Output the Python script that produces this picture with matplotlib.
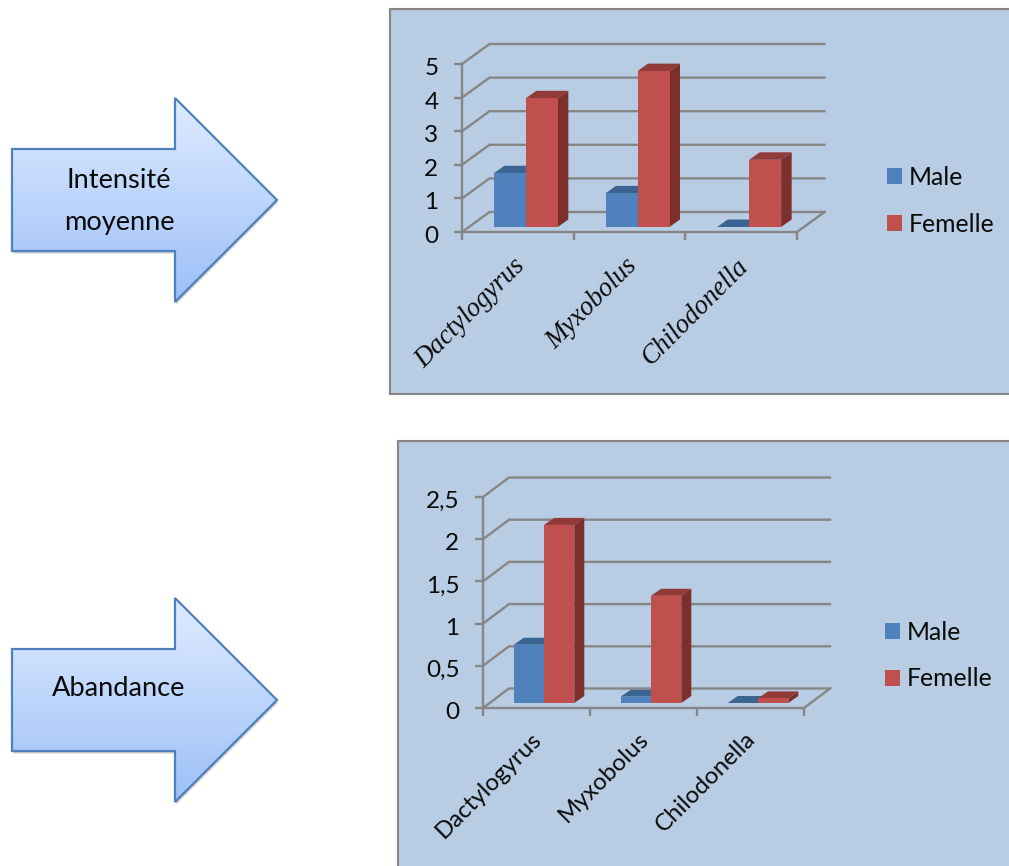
import numpy as np
import matplotlib
matplotlib.use("Agg")
import matplotlib.pyplot as plt
from matplotlib.patches import Polygon, Rectangle, Patch
from matplotlib.transforms import Affine2D

# ---- data ----
categories = ["Dactylogyrus", "Myxobolus", "Chilodonella"]
series_names = ["Male", "Femelle"]
intensite_male = [1.6, 1.0, 0.0]
intensite_femelle = [3.83, 4.64, 2.0]
abondance_male = [0.69, 0.075, 0.0]
abondance_femelle = [2.11, 1.27, 0.055]
intensite_ticks = [0, 1, 2, 3, 4, 5]
intensite_ticklabels = ["0", "1", "2", "3", "4", "5"]
abondance_ticks = [0, 0.5, 1, 1.5, 2, 2.5]
abondance_ticklabels = ["0", "0,5", "1", "1,5", "2", "2,5"]

W, H = 1009, 866
DPI = 100
FONT = "Lato"
PANEL = "#B8CCE4"
GRID = "#868686"
FRONT = ["#4F81BD", "#C0504D"]
TOP = ["#3C6490", "#913A38"]
SIDE = ["#375D8A", "#7C2F2D"]
LW = 1.7
INK = "#0A0A0A"

fig = plt.figure(figsize=(W / DPI, H / DPI), dpi=DPI, facecolor="white")
bg = fig.add_axes([0, 0, 1, 1])
bg.set_axis_off()


def arrow(cy, lines):
    x0, xn, xt = 12, 175, 277
    pts = [(x0, cy - 51), (xn, cy - 51), (xn, cy - 102), (xt, cy), (xn, cy + 102),
           (xn, cy + 51), (x0, cy + 51)]
    shadow = Polygon([(x + 1, y + 2.5) for x, y in pts], closed=True, fc="#555555", ec="none", alpha=0.3, zorder=1)
    bg.add_patch(shadow)
    grad = np.linspace(0, 1, 256)[:, None, None]
    c0, c1 = np.array([0.875, 0.925, 1.0]), np.array([0.61, 0.75, 0.97])
    img = c0[None, None, :] * (1 - grad) + c1[None, None, :] * grad
    im = bg.imshow(img, extent=(x0, xt, cy + 102, cy - 102), aspect="auto", zorder=2)
    poly = Polygon(pts, closed=True, fc="none", ec="#4F81BD", lw=1.6, zorder=3, joinstyle="miter")
    bg.add_patch(poly)
    im.set_clip_path(poly)
    for (tx, ty, s) in lines:
        bg.text(tx, ty, s, ha="center", va="center", fontsize=19.6, family=FONT, color=INK, zorder=4)


arrow(200, [(119, 180.5, "Intensité"), (119, 222.5, "moyenne")])
arrow(700, [(119, 688, "Abandance")])

bg.add_patch(Rectangle((390, 9), 640, 385, fc=PANEL, ec=GRID, lw=1.5, zorder=0))
bg.add_patch(Rectangle((398, 441), 640, 460, fc=PANEL, ec=GRID, lw=1.5, zorder=0))
bg.set_xlim(0, W)
bg.set_ylim(H, 0)


def chart(x_l, x_r, y_0, y_top, vmax, ticks, ticklabels, male, femelle, depth_px, bar_px,
          bar_depth_px, base_px, group_shift, label_font, label_shift, legend_xy):
    ax = fig.add_axes([x_l / W, 1 - y_0 / H, (x_r - x_l) / W, (y_0 - y_top) / H])
    ax.patch.set_alpha(0)
    ax.set_xlim(0, 3)
    ax.set_ylim(0, vmax)
    ux, uy = (x_r - x_l) / 3, (y_0 - y_top) / vmax
    dx, dy = depth_px[0] / ux, depth_px[1] / uy

    for t in ticks:
        ax.plot([0, dx, 3 + dx], [t, t + dy, t + dy], color=GRID, lw=LW, clip_on=False, zorder=1,
                solid_joinstyle="miter")
    ax.plot([3, 3 + dx], [0, dy], color=GRID, lw=LW, clip_on=False, zorder=1)

    for s in ("top", "right"):
        ax.spines[s].set_visible(False)
    for s in ("left", "bottom"):
        ax.spines[s].set_color(GRID)
        ax.spines[s].set_linewidth(LW)
    ax.set_yticks(ticks, ticklabels, fontsize=17.5, family=FONT, color=INK)
    ax.tick_params(axis="y", length=5.5, width=LW, color=GRID, pad=11.5)
    for lab in ax.get_yticklabels():
        lab.set_transform(lab.get_transform() + Affine2D().translate(0, -2.5))
    ax.set_xticks([0, 1, 2, 3], [])
    ax.tick_params(axis="x", which="major", length=5.5, width=LW, color=GRID)
    pos = np.arange(3) + 0.5
    ax.set_xticks(pos, categories, minor=True, rotation=45, ha="right", rotation_mode="anchor", **label_font)
    ax.tick_params(axis="x", which="minor", length=0, pad=19, colors=INK)
    for lab in ax.get_xticklabels(minor=True):
        lab.set_transform(lab.get_transform() + Affine2D().translate(*label_shift))

    bw = bar_px / ux
    bdx, bdy = bar_depth_px[0] / ux, bar_depth_px[1] / uy
    tr = ax.transData + Affine2D().translate(*base_px)
    for k, vals in enumerate([male, femelle]):
        xs = pos + group_shift / ux + (k - 1) * bw
        for x, v in zip(xs, vals):
            ax.add_patch(Polygon([(x, v), (x + bw, v), (x + bw + bdx, v + bdy), (x + bdx, v + bdy)],
                                 closed=True, fc=TOP[k], ec="none", transform=tr, clip_on=False, zorder=3 + k))
            ax.add_patch(Polygon([(x + bw, 0), (x + bw + bdx, bdy), (x + bw + bdx, v + bdy), (x + bw, v)],
                                 closed=True, fc=SIDE[k], ec="none", transform=tr, clip_on=False, zorder=3 + k))
        ax.bar(xs, vals, width=bw, align="edge", color=FRONT[k], transform=tr, clip_on=False, zorder=3.5 + k,
               linewidth=0)
    handles = [Patch(fc=FRONT[i], ec="none", label=series_names[i]) for i in range(2)]
    fs = 17.8
    sq = 15 * 72 / DPI / fs
    fig.legend(handles=handles, loc="center left",
               bbox_to_anchor=(legend_xy[0] / W, 1 - legend_xy[1] / H),
               frameon=False, prop={"family": FONT, "size": fs}, handlelength=sq, handleheight=sq,
               labelspacing=legend_xy[2], handletextpad=0.27, borderpad=0, borderaxespad=0,
               labelcolor=INK)
    return ax


chart(462, 797, 232, 64, 5, intensite_ticks, intensite_ticklabels, intensite_male, intensite_femelle,
      (27.5, 20), 32, (10.5, 7.5), (7, 5), 1,
      {"family": "Liberation Serif", "style": "italic", "fontsize": 19.3}, (-5, 4.5), (887, 201, 0.97))
chart(483, 804, 708, 497, 2.5, abondance_ticks, abondance_ticklabels, abondance_male, abondance_femelle,
      (26, 19.5), 30.3, (10, 7), (6.5, 5), 1.0,
      {"family": FONT, "fontsize": 17.3}, (-6, 6), (885, 655.5, 0.97))

fig.savefig("out.png", dpi=DPI, facecolor="white")
